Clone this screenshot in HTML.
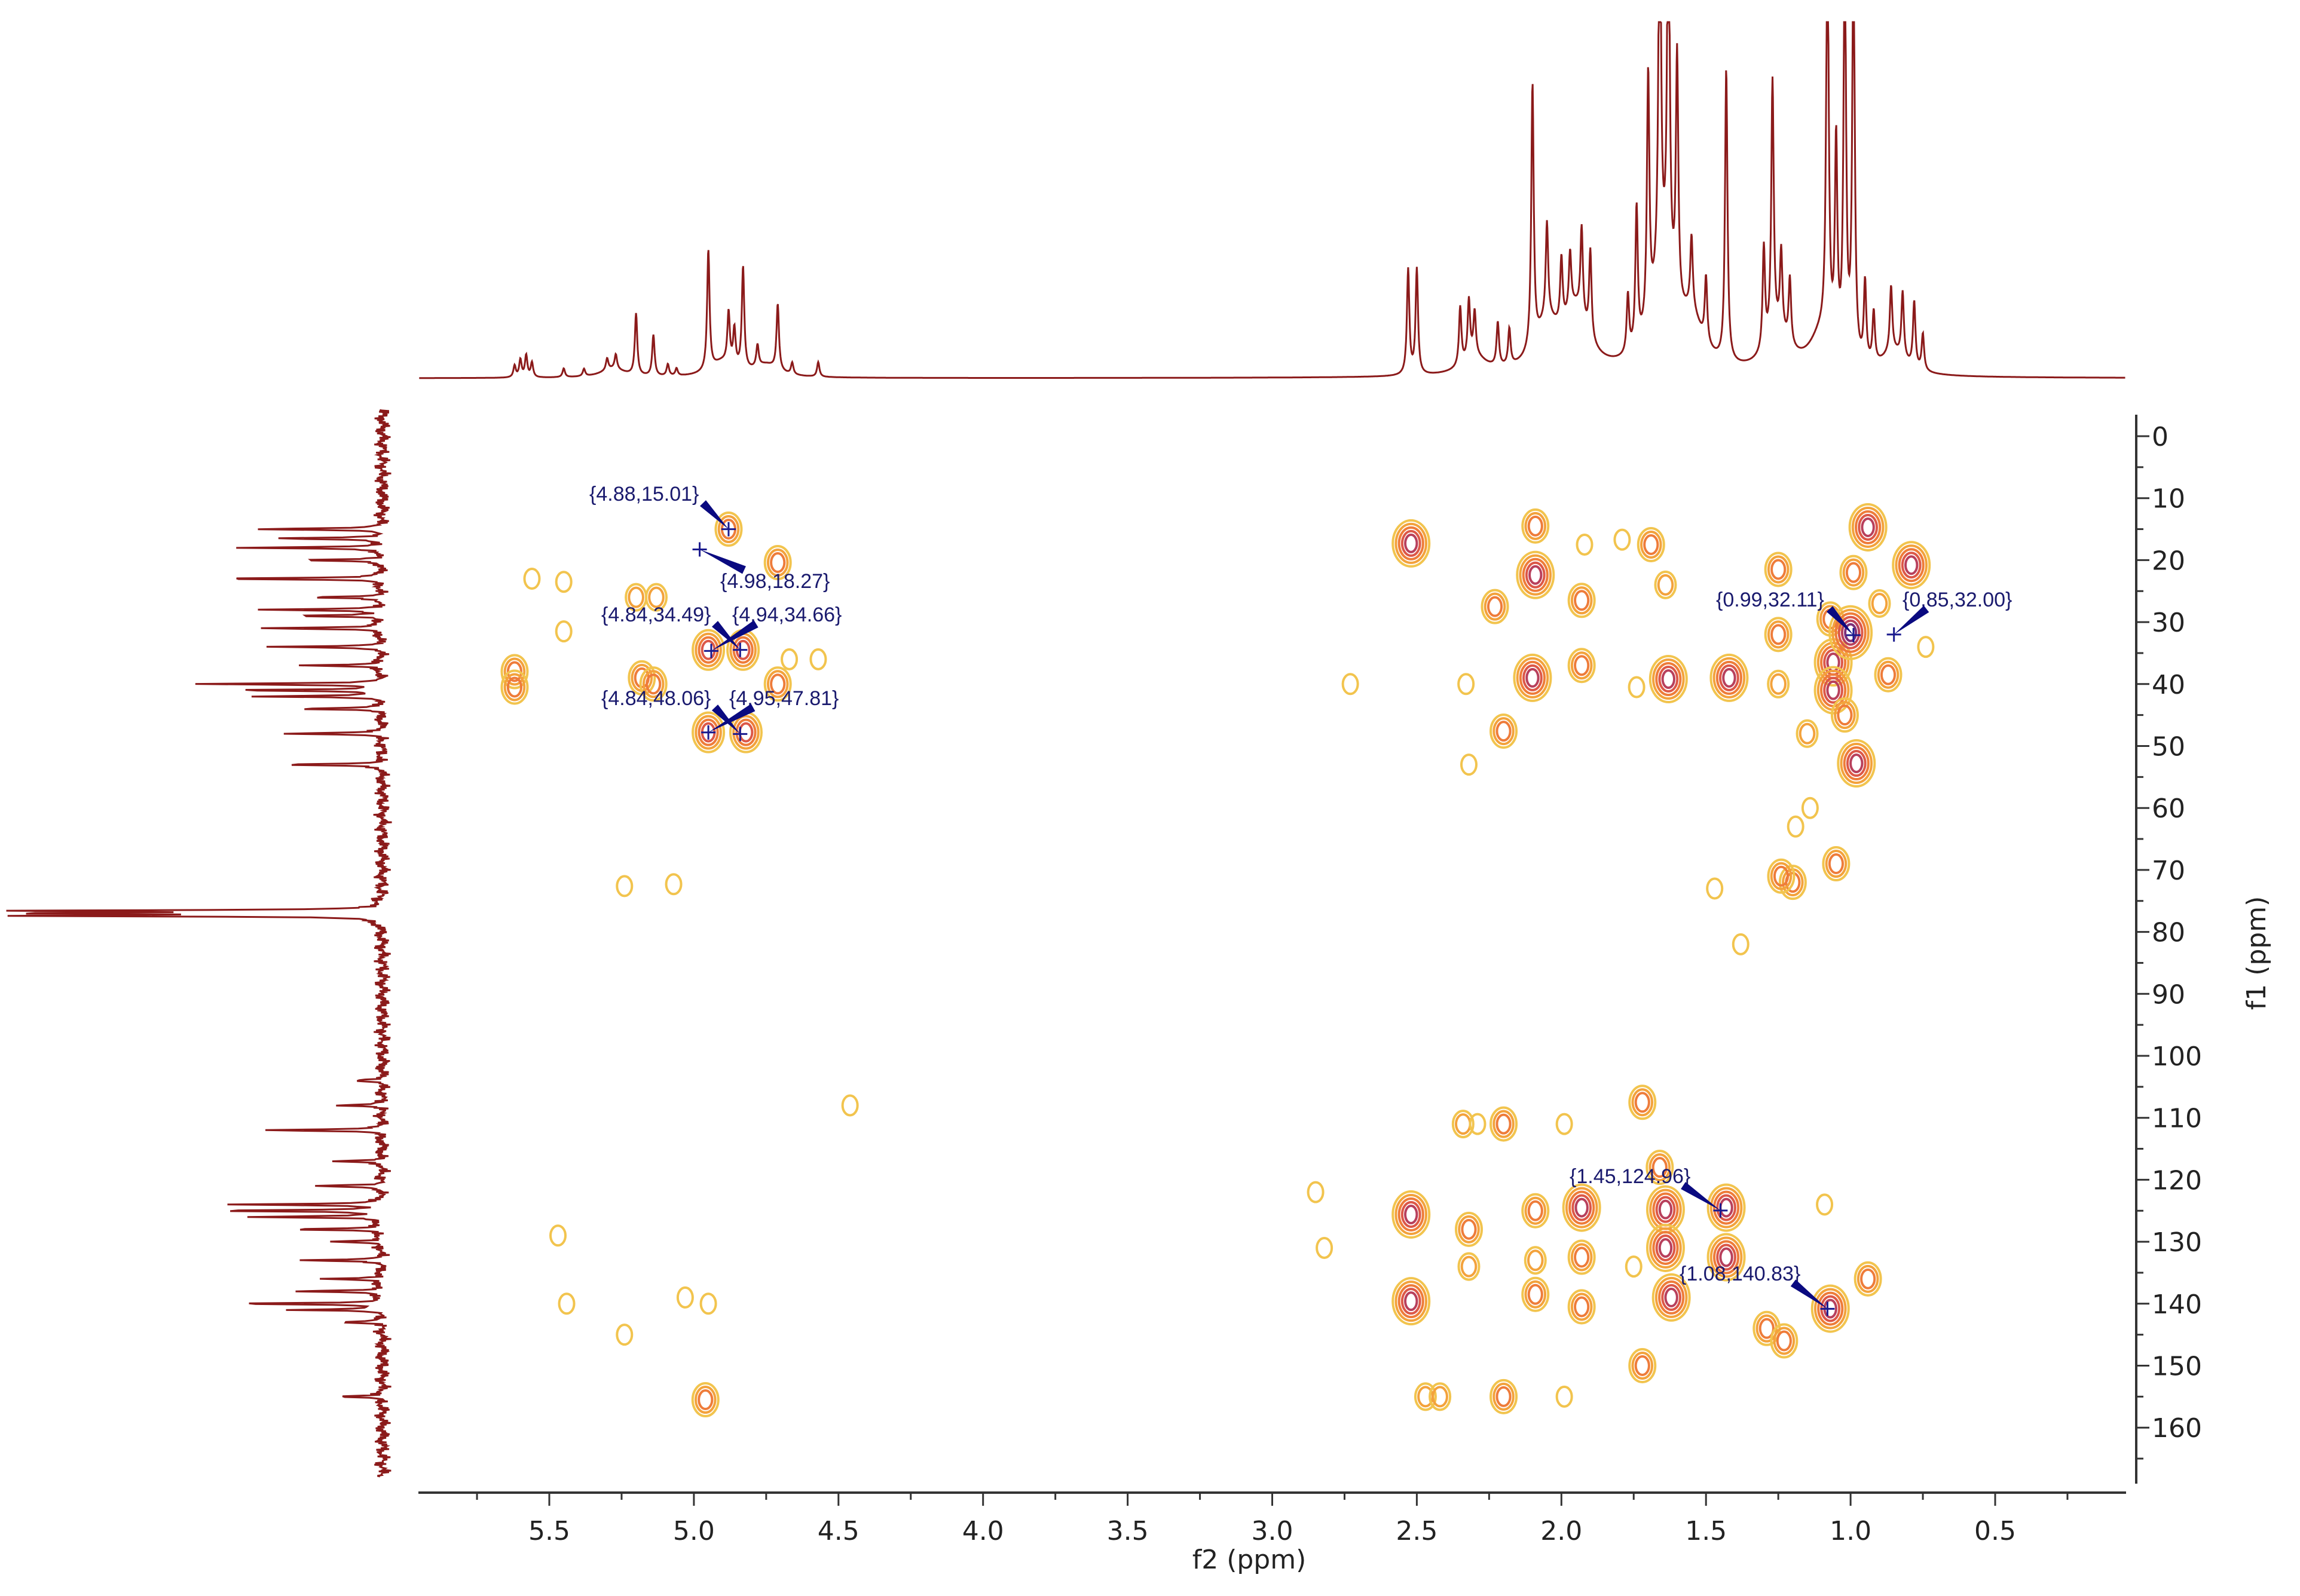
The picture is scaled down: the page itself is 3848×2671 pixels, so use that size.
<!DOCTYPE html>
<html><head><meta charset="utf-8"><style>
html,body{margin:0;padding:0;background:#fff;}
svg{display:block;font-family:"DejaVu Sans","Liberation Sans",sans-serif;}
</style></head><body>
<svg id="chart" width="3848" height="2671" viewBox="0 0 3848 2671" xmlns="http://www.w3.org/2000/svg">
<g id="contours"></g>
<g id="top"></g>
<g id="left"></g>
<g id="axes"></g>
<g id="ann"></g>
<text x="2090" y="2625" font-size="44" text-anchor="middle" fill="#222">f2 (ppm)</text>
<text x="3790" y="1595" font-size="44" text-anchor="middle" fill="#222" transform="rotate(-90 3790 1595)">f1 (ppm)</text>
</svg>
<script>
// ---- data ----
const xTicks=[5.5,5.0,4.5,4.0,3.5,3.0,2.5,2.0,1.5,1.0,0.5];
const xTickLabels=["5.5","5.0","4.5","4.0","3.5","3.0","2.5","2.0","1.5","1.0","0.5"];
const yTicks=[0,10,20,30,40,50,60,70,80,90,100,110,120,130,140,150,160];
const peakH=[4.88,4.71,5.20,5.13,4.95,4.83,5.62,5.62,5.18,5.14,4.71,4.95,4.82,4.96,5.56,5.45,5.45,4.67,4.57,5.24,5.07,5.47,5.44,5.24,5.03,4.95,4.46,2.73,2.85,2.82,
2.52,2.09,2.09,2.23,1.93,1.93,2.10,2.33,2.20,2.32,1.92,1.79,1.69,1.64,1.63,1.74,1.42,1.25,1.25,1.25,1.07,1.06,1.06,1.00,0.94,0.99,0.98,0.79,0.74,0.87,1.14,1.19,1.20,1.24,1.05,1.47,1.38,1.02,0.90,1.15,
1.72,2.34,2.29,2.20,1.99,2.52,2.52,2.32,2.32,2.09,2.09,2.09,1.93,1.93,1.93,1.75,1.64,1.64,1.62,1.43,1.43,1.29,1.23,1.07,0.94,1.72,2.47,2.42,2.20,1.99,1.09,1.66];
const peakC=[15.0,20.4,26,26,34.5,34.5,38,40.5,39,40,40,47.8,47.8,155.5,23,23.5,31.5,36,36,72.6,72.3,129,140,145,139,140,108,40,122,131,
17.3,14.5,22.4,27.5,26.5,37,39,40,47.6,53,17.5,16.7,17.5,24,39.2,40.5,39,21.5,32,40,29.5,36.5,41,31.7,14.7,22,52.8,20.8,34,38.5,60,63,72,71,69,73,82,45,27,48,
107.5,111,111,111,111,125.6,139.6,128,134,125,133,138.5,124.5,132.5,140.5,134,124.8,131,139,124.5,132.5,144,146,140.8,136,150,155,155,155,155,124,118];
const peakLvl=[3,3,2,2,4,4,3,3,3,3,3,4,4,3,1,1,1,1,1,1,1,1,1,1,1,1,1,1,1,1,
5,3,5,3,3,3,5,1,3,1,1,1,3,2,5,1,5,3,3,2,3,5,5,6,5,3,5,5,1,3,1,1,3,3,3,1,1,3,2,2,
3,2,1,3,1,5,5,3,2,3,2,3,5,3,3,1,5,5,5,5,5,3,3,5,3,3,2,2,3,1,1,3];
// top 1H projection peaks
const hPpm=[5.62,5.60,5.58,5.56,5.45,5.38,5.30,5.27,5.20,5.14,5.09,5.06,4.95,4.88,4.86,4.83,4.78,4.71,4.66,4.57,
2.53,2.50,2.35,2.32,2.30,2.22,2.18,2.10,2.05,2.00,1.97,1.93,1.90,1.77,1.74,1.70,1.66,1.63,1.60,1.55,1.50,1.43,1.30,1.27,1.24,1.21,1.08,1.05,1.02,0.99,0.95,0.92,0.86,0.82,0.78,0.75];
const hInt=[8,12,15,10,6,5,8,10,42,28,8,5,82,35,25,70,15,45,8,10,
72,72,40,40,30,30,25,180,65,45,40,60,60,40,95,170,290,290,170,50,45,200,70,175,55,45,290,140,290,290,55,35,45,45,45,25];
const humpPpm=[5.28,4.90,4.75,2.30,2.05,1.95,1.65,1.55,1.25,1.10,0.85];
const humpInt=[6,10,8,12,30,40,60,30,25,25,15];
// left 13C projection peaks
const cPpm=[15,16.5,18,20,23,26,28,29,31,34,37,40,41,42,44,48,53,76.6,77,77.4,104,108,112,117,121,124,125,126,128,130,133,136,138,140,141,143,155];
const cInt=[90,75,100,60,125,50,85,65,90,75,60,130,110,85,60,70,75,240,245,240,20,30,85,35,50,105,120,95,70,40,55,45,65,110,60,30,35];
// annotations
const annText=["{4.88,15.01}","{4.98,18.27}","{4.84,34.49}","{4.94,34.66}","{4.84,48.06}","{4.95,47.81}","{0.99,32.11}","{0.85,32.00}","{1.45,124.96}","{1.08,140.83}"];
const annPx=[4.88,4.98,4.84,4.94,4.84,4.95,0.99,0.85,1.45,1.08];
const annPy=[15.01,18.27,34.49,34.66,48.06,47.81,32.11,32.00,124.96,140.83];
const annLX=[986,1205,1006,1225,1006,1220,2871,3183,2626,2810];
const annLY=[838,984,1040,1040,1180,1180,1015,1015,1980,2143];

// ---- scales ----
const X=p=>919+(5.5-p)*483.8;
const Y=c=>730+c*10.37;
const NS="http://www.w3.org/2000/svg";
function mk(tag,parent,attrs){const e=document.createElementNS(NS,tag);for(const k in attrs)e.setAttribute(k,attrs[k]);parent.appendChild(e);return e;}

// ---- contours ----
const cg=document.getElementById('contours');
const cols=["#f2c44e","#f3a23c","#ee7c3a","#dc5848","#b8405c","#7c2e78"];
for(let i=0;i<peakH.length;i++){
  const cx=X(peakH[i]),cy=Y(peakC[i]),n=peakLvl[i];
  for(let l=0;l<n;l++){
    const rx=Math.max(5,8+n*4.5-l*5.2), ry=Math.max(6,11+n*5.5-l*6);
    const e=mk('ellipse',cg,{cx:cx,cy:cy,rx:rx,ry:ry,fill:'none',stroke:cols[l],'stroke-width':4});
    
    
  }
}

// ---- top spectrum ----
const tg=document.getElementById('top');
const base=633, sc=2.454;
let d="";
for(let p=5.95;p>=0.05;p-=0.0015){
  let v=0;
  for(let k=0;k<hPpm.length;k++){const w=0.005;const dx=p-hPpm[k];v+=hInt[k]*w*w/(dx*dx+w*w);}
  for(let k=0;k<humpPpm.length;k++){const w=0.05;const dx=p-humpPpm[k];v+=humpInt[k]*w*w/(dx*dx+w*w);}
  let y=base-v*sc; if(y<37)y=37;
  d+=(d?"L":"M")+X(p).toFixed(1)+","+y.toFixed(1);
}
const tp=mk('path',tg,{d:d,fill:'none',stroke:'#8b1a1a','stroke-width':3});



// ---- left spectrum ----
const lg=document.getElementById('left');
let d2="";
const bx=640;
for(let c=-4.3;c<=168;c+=0.12){
  let v=0;
  for(let k=0;k<cPpm.length;k++){const w=0.12;const dc=c-cPpm[k];v+=cInt[k]*w*w/(dc*dc+w*w);}
  const noise=10*Math.sin(c*97.3)*Math.cos(c*41.7)+6*Math.sin(c*233.1);
  const x=bx+noise-v*sc;
  d2+=(d2?"L":"M")+x.toFixed(1)+","+Y(c).toFixed(1);
}
const lp=mk('path',lg,{d:d2,fill:'none',stroke:'#8b1a1a','stroke-width':3});



// ---- axes ----
const ag=document.getElementById('axes');
let ax=mk('line',ag,{x1:700,y1:2498,x2:3557,y2:2498,stroke:'#333','stroke-width':4});


for(let p=5.75;p>=0.2;p-=0.25){
  const major=Math.abs(p*2-Math.round(p*2))<1e-6;
  mk('line',ag,{x1:X(p),y1:2498,x2:X(p),y2:2498+(major?22:12),stroke:'#333','stroke-width':3});
}
for(let i=0;i<xTicks.length;i++){
  const t=mk('text',ag,{x:X(xTicks[i]),y:2577,'font-size':44,'text-anchor':'middle',fill:'#222'});
  t.textContent=xTickLabels[i];
  
  
}
let ay=mk('line',ag,{x1:3574,y1:694,x2:3574,y2:2483,stroke:'#333','stroke-width':4});


for(let c=0;c<=165;c+=5){
  const major=c%10===0;
  mk('line',ag,{x1:3574,y1:Y(c),x2:3574+(major?22:12),y2:Y(c),stroke:'#333','stroke-width':3});
}
for(let i=0;i<yTicks.length;i++){
  const t=mk('text',ag,{x:3600,y:Y(yTicks[i])+16,'font-size':44,fill:'#222'});
  t.textContent=String(yTicks[i]);
  
  
}

// ---- annotations ----
const ng=document.getElementById('ann');
for(let i=0;i<annText.length;i++){
  const px=X(annPx[i]),py=Y(annPy[i]);
  const t=mk('text',ng,{x:annLX[i],y:annLY[i],'font-size':34,fill:'#1a1a6e','font-family':'Liberation Sans Narrow, Liberation Sans, sans-serif'});
  t.textContent=annText[i];
  
  
  const lx=annLX[i]+ (px>annLX[i]+120? 190:40), ly=annLY[i]+(py>annLY[i]?4:-30);
  const dx=px-lx, dy=py-ly, L=Math.hypot(dx,dy)||1, nx=-dy/L*7, ny=dx/L*7;
  const w=mk('polygon',ng,{points:`${lx+nx},${ly+ny} ${lx-nx},${ly-ny} ${px},${py}`,fill:'#0a0a80'});
  
  
  mk('line',ng,{x1:px-12,y1:py,x2:px+12,y2:py,stroke:'#1a1a8e','stroke-width':3});
  mk('line',ng,{x1:px,y1:py-12,x2:px,y2:py+12,stroke:'#1a1a8e','stroke-width':3});
}
</script>
</body></html>
